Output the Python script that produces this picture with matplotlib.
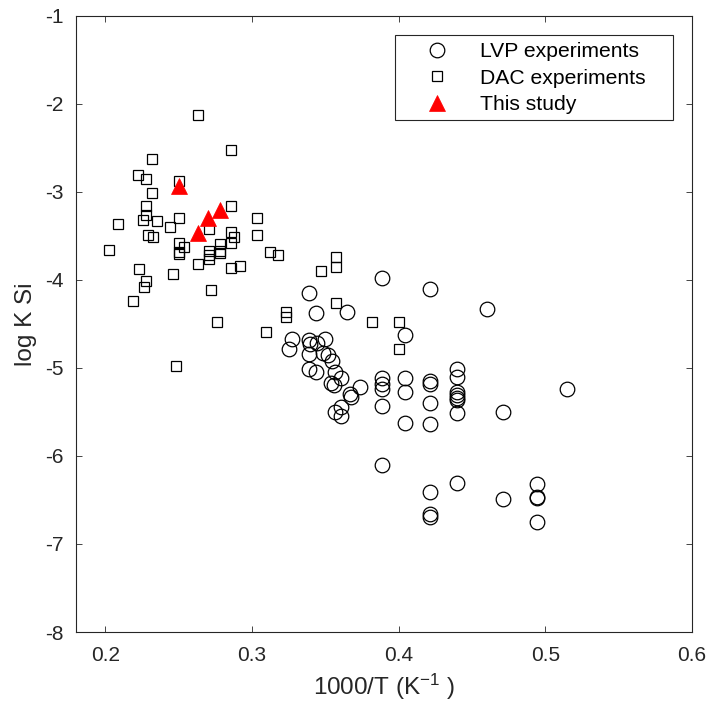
import matplotlib
matplotlib.use('Agg')
import matplotlib.pyplot as plt
from matplotlib.patches import Rectangle

plt.rcParams['font.family'] = ['Liberation Sans', 'DejaVu Sans']
plt.rcParams['mathtext.fontset'] = 'custom'
plt.rcParams['mathtext.rm'] = 'Liberation Sans'
plt.rcParams['mathtext.default'] = 'regular'
plt.rcParams['axes.unicode_minus'] = False

# LVP experiments (1000/T, log K Si)
lvp_x = [0.3886, 0.4213, 0.4601, 0.3390, 0.3433, 0.3648, 0.4043, 0.3274, 0.3250,
         0.3390, 0.3395, 0.3444, 0.3497, 0.3390, 0.3485, 0.3515, 0.3546, 0.3390,
         0.3435, 0.3565, 0.3610, 0.3542, 0.3558, 0.3739, 0.3667, 0.3678, 0.3565,
         0.3605, 0.3605, 0.3886, 0.3886, 0.3886, 0.3886, 0.3886, 0.4043, 0.4043,
         0.4043, 0.4213, 0.4213, 0.4213, 0.4213, 0.4399, 0.4399, 0.4399, 0.4399,
         0.4399, 0.4399, 0.4399, 0.4710, 0.5145, 0.4215, 0.4215, 0.4215, 0.4399,
         0.4710, 0.4941, 0.4941, 0.4941, 0.4941]
lvp_y = [-3.976, -4.108, -4.335, -4.153, -4.380, -4.362, -4.627, -4.675, -4.785,
         -4.683, -4.732, -4.714, -4.672, -4.842, -4.834, -4.857, -4.918, -5.016,
         -5.043, -5.043, -5.111, -5.175, -5.194, -5.213, -5.296, -5.327, -5.497,
         -5.440, -5.543, -5.111, -5.186, -5.243, -5.432, -6.102, -5.111, -5.270,
         -5.622, -5.149, -5.186, -5.395, -5.637, -5.016, -5.107, -5.270, -5.308,
         -5.338, -5.364, -5.509, -5.497, -5.239, -6.412, -6.658, -6.689, -6.303,
         -6.492, -6.318, -6.462, -6.480, -6.746]

# DAC experiments
dac_x = [0.2633, 0.2857, 0.2320, 0.2224, 0.2277, 0.2320, 0.2501, 0.2277, 0.2277,
         0.2254, 0.2354, 0.2086, 0.2501, 0.2440, 0.2857, 0.3032, 0.3032, 0.2293,
         0.2327, 0.2027, 0.2501, 0.2535, 0.2501, 0.2501, 0.2705, 0.2705, 0.2705,
         0.2705, 0.2780, 0.2780, 0.2780, 0.2857, 0.2857, 0.2878, 0.3124, 0.3175,
         0.2633, 0.2857, 0.2916, 0.2227, 0.2277, 0.2265, 0.2188, 0.2461, 0.2719,
         0.2760, 0.3095, 0.3229, 0.3229, 0.3571, 0.3571, 0.3471, 0.3571, 0.3816,
         0.4000, 0.4000, 0.2483]
dac_y = [-2.129, -2.527, -2.632, -2.807, -2.852, -3.015, -2.879, -3.162, -3.264,
         -3.321, -3.333, -3.367, -3.298, -3.401, -3.162, -3.298, -3.488, -3.491,
         -3.511, -3.665, -3.586, -3.628, -3.681, -3.707, -3.427, -3.670, -3.722,
         -3.767, -3.594, -3.670, -3.699, -3.454, -3.586, -3.511, -3.681, -3.719,
         -3.817, -3.870, -3.847, -3.877, -4.017, -4.082, -4.237, -3.938, -4.116,
         -4.476, -4.596, -4.362, -4.419, -3.738, -3.851, -3.900, -4.267, -4.482,
         -4.482, -4.785, -4.978]

# This study
this_x = [0.2501, 0.2703, 0.2782, 0.2635]
this_y = [-2.94, -3.30, -3.21, -3.47]

fig = plt.figure(figsize=(7.08, 7.07), dpi=100)
ax = fig.add_axes([76 / 708, 75 / 707, 616 / 708, 616.5 / 707])

ax.plot(lvp_x, lvp_y, 'o', ms=10.5, mfc='none', mec='black', mew=0.9,
        label='LVP experiments')
ax.plot(dac_x, dac_y, 's', ms=7, mfc='none', mec='black', mew=0.9,
        label='DAC experiments')
ax.plot(this_x, this_y, '^', ms=12, mfc='red', mec='red', mew=0.5,
        label='This study')

ax.set_xlim(0.18, 0.6)
ax.set_ylim(-8, -1)
ax.set_xticks([0.2, 0.3, 0.4, 0.5, 0.6])
ax.set_xticklabels(['0.2', '0.3', '0.4', '0.5', '0.6'])
ax.set_yticks(range(-8, 0))
ax.tick_params(direction='in', top=True, right=True, length=4.5, width=0.6,
               labelsize=15, colors='#262626')
ax.tick_params(axis='x', pad=10)
ax.tick_params(axis='y', pad=9)
for s in ax.spines.values():
    s.set_color('#262626')
    s.set_linewidth(0.8)

ax.set_xlabel('1000/T (K$^{-1}$ )', fontsize=17.5, color='#262626', labelpad=5)
ax.set_ylabel('log K Si', fontsize=17.5, color='#262626', labelpad=6)

leg = ax.legend(loc='upper left', bbox_to_anchor=(407.5 / 708, 1 - 33.7 / 707),
                bbox_transform=fig.transFigure, borderaxespad=0, frameon=False,
                fontsize=15.2, handlelength=2.0, handletextpad=1.04,
                labelspacing=0.355, borderpad=0.4, numpoints=1)
fig.patches.append(Rectangle((395 / 708, 1 - 120 / 707), 278 / 708, 85 / 707,
                             transform=fig.transFigure, fill=False,
                             edgecolor='#262626', linewidth=0.8))

plt.savefig('out.png', dpi=100)
